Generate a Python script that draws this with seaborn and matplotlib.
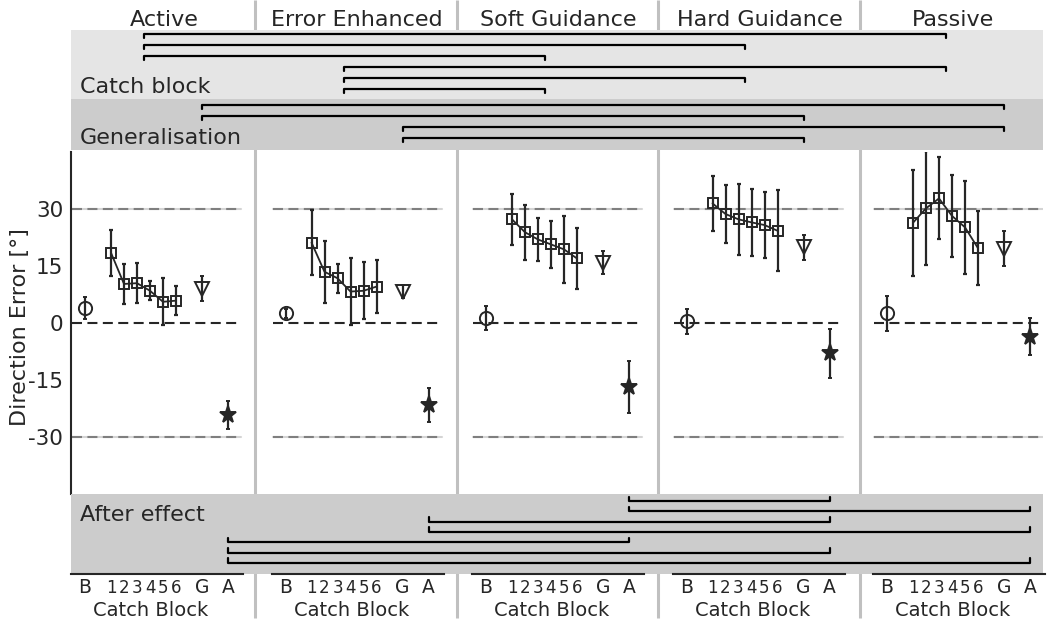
import numpy as np
import pandas as pd
import seaborn as sns
import matplotlib.pyplot as plt

sns.set_style("white")
plt.rcParams["font.family"] = ["DejaVu Sans"]

INK = "#262626"

conditions = ["Active", "Error Enhanced", "Soft Guidance", "Hard Guidance", "Passive"]
block_labels = ["B", "1", "2", "3", "4", "5", "6", "G", "A"]
block_pos = [0, 2, 3, 4, 5, 6, 7, 9, 11]

baseline_mean = [3.9, 2.5, 1.3, 0.4, 2.5]
baseline_err = [2.9, 1.2, 3.1, 3.3, 4.6]
catch_mean = [
    [18.4, 10.2, 10.4, 8.4, 5.5, 5.8],
    [21.1, 13.4, 11.7, 8.2, 8.4, 9.5],
    [27.2, 23.8, 21.9, 20.6, 19.3, 16.9],
    [31.4, 28.6, 27.2, 26.4, 25.7, 24.2],
    [26.3, 30.1, 32.7, 28.1, 25.1, 19.6],
]
catch_err = [
    [6.1, 5.3, 5.2, 2.5, 6.2, 3.9],
    [8.5, 8.1, 3.8, 8.9, 7.5, 7.0],
    [6.7, 7.3, 5.7, 6.1, 8.8, 8.0],
    [7.2, 7.6, 9.4, 8.8, 8.7, 10.6],
    [14.0, 15.0, 10.8, 10.8, 12.3, 9.7],
]
general_mean = [8.9, 8.2, 15.8, 19.8, 19.4]
general_err = [3.3, 1.6, 3.0, 3.3, 4.6]
after_mean = [-24.3, -21.7, -17.0, -8.1, -3.7]
after_err = [3.7, 4.5, 6.8, 6.4, 4.9]

# significance brackets (condition index pairs)
catch_pairs = [(0, 4), (0, 3), (0, 2), (1, 4), (1, 3), (1, 2)]
general_pairs = [(0, 4), (0, 3), (1, 4), (1, 3)]
after_pairs = [(2, 3), (2, 4), (1, 3), (1, 4), (0, 2), (0, 3), (0, 4)]

# layout (pixels)
W, H = 1053, 621
X0, U, PANEL = 85.0, 13.0, 200.5
AX_L, AX_R = 71, 1043
Y0, YS = 322.7, 3.8
poff = PANEL / U


def unit(px):
    return (px - X0) / U


def px_axes(fig, left, top, right, bottom, **kw):
    return fig.add_axes([left / W, 1 - bottom / H, (right - left) / W, (bottom - top) / H], **kw)


fig = plt.figure(figsize=(W / 100, H / 100), dpi=100)

# background: column separators and headers
bg = px_axes(fig, 0, 0, W, H)
bg.set_xlim(0, W)
bg.set_ylim(H, 0)
bg.axis("off")
seps = [255 + i * 201.7 for i in range(4)]
for sx in seps:
    bg.plot([sx, sx], [0, 618], color="#c0c0c0", lw=2.2, solid_capstyle="butt")
bounds = [AX_L] + seps + [AX_R]
for i, name in enumerate(conditions):
    bg.text((bounds[i] + bounds[i + 1]) / 2 + 1, 26, name, ha="center", va="baseline",
            fontsize=16, color=INK)

# main panel
ax = px_axes(fig, AX_L, Y0 - 45 * YS, AX_R, Y0 + 45 * YS)
ax.set_facecolor("none")
ax.set_xlim(unit(AX_L), unit(AX_R))
ax.set_ylim(-45, 45)

rows = []
for i in range(5):
    off = i * poff
    for y in (30, -30):
        ax.plot([off - 1, off + 12], [y, y], color="#d4d4d4", lw=1.5, zorder=1)
        ax.plot([off - 1, off + 12], [y, y], color="#7f7f7f", lw=1.5, dashes=(4.8, 2.6), zorder=1)
    ax.plot([off - 1, off + 12], [0, 0], color=INK, lw=1.5, dashes=(4.8, 2.6), zorder=1)
    for j in range(6):
        rows.append({"panel": i, "x": off + block_pos[1 + j],
                     "y": catch_mean[i][j], "err": catch_err[i][j]})
catch_df = pd.DataFrame(rows)

ax.errorbar(catch_df["x"], catch_df["y"], yerr=catch_df["err"], fmt="none",
            ecolor=INK, elinewidth=1.6, capsize=1.1, capthick=1.6, zorder=3)
sns.lineplot(data=catch_df, x="x", y="y", units="panel", estimator=None, ax=ax,
             color=INK, lw=1.3, marker="s", ms=7.8, mfc="none", mec=INK, mew=1.4,
             legend=False, zorder=4)

offs = np.arange(5) * poff
for pos, m, e, mk, ms, fc in [
    (block_pos[0], baseline_mean, baseline_err, "o", 9.5, "none"),
    (block_pos[7], general_mean, general_err, "v", 10.5, "none"),
    (block_pos[8], after_mean, after_err, "*", 12.5, INK),
]:
    ax.errorbar(offs + pos, m, yerr=e, fmt=mk, ms=ms, mfc=fc, mec=INK, mew=1.4,
                ecolor=INK, elinewidth=1.6, capsize=1.1, capthick=1.6, zorder=4)

ax.set_xticks([])
ax.set_yticks([-30, -15, 0, 15, 30])
ax.set_yticklabels(["-30", "-15", "0", "15", "30"])
ax.tick_params(axis="y", direction="in", length=4, width=1, colors=INK,
               labelsize=15.5, pad=5.5)
sns.despine(ax=ax, bottom=True)
ax.spines["left"].set_color(INK)
ax.spines["left"].set_linewidth(1.5)
ax.set_xlabel("")
ax.set_ylabel("Direction Error [°]", fontsize=16, color=INK)
ax.yaxis.set_label_coords(-0.0418, 0.486)


# significance bands
def band(top, bottom, color, label, base, pairs, pos, first, step, tick):
    b = px_axes(fig, AX_L, top, AX_R, bottom)
    b.set_facecolor(color)
    b.set_xlim(unit(AX_L), unit(AX_R))
    b.set_ylim(bottom, top)
    b.set_xticks([])
    b.set_yticks([])
    for s in b.spines.values():
        s.set_visible(False)
    b.text(unit(80), base, label, ha="left", va="baseline", fontsize=16, color=INK)
    for k, (p, q) in enumerate(pairs):
        y = first + k * step
        x1, x2 = p * poff + pos, q * poff + pos
        b.plot([x1, x1, x2, x2], [y + tick, y, y, y + tick], color="black", lw=1.6)
    return b


band(30, 99, "#e5e5e5", "Catch block", 93, catch_pairs, 4.5, 34, 11, 4)
band(99, 149.5, "#cccccc", "Generalisation", 144, general_pairs, block_pos[7], 105, 11, 4)
band(494, 574, "#cccccc", "After effect", 521, after_pairs, block_pos[8], 501, 10.3, -4.5)

# bottom axes with catch block ticks
for i in range(5):
    left = X0 + i * PANEL - 14
    bx = px_axes(fig, left, 562, left + 172, 574)
    bx.set_facecolor("none")
    bx.set_xlim(-14 / U, 158 / U)
    bx.set_ylim(0, 1)
    sns.despine(ax=bx, left=True)
    bx.spines["bottom"].set_color(INK)
    bx.spines["bottom"].set_linewidth(1.5)
    bx.set_yticks([])
    bx.set_xticks(block_pos)
    bx.tick_params(axis="x", direction="in", length=2.5, width=1, colors=INK,
                   labelbottom=False)
    for p, lab in zip(block_pos, block_labels):
        bx.annotate(lab, xy=(p, 0), xycoords=("data", "axes fraction"),
                    xytext=(0, -13.7), textcoords="offset points", ha="center",
                    va="baseline", fontsize=12 if lab.isdigit() else 13.5, color=INK)
    bx.annotate("Catch Block", xy=(5.05, 0), xycoords=("data", "axes fraction"),
                xytext=(0, -30.2), textcoords="offset points", ha="center",
                va="baseline", fontsize=14, color=INK)

fig.savefig("out.png", dpi=100)
